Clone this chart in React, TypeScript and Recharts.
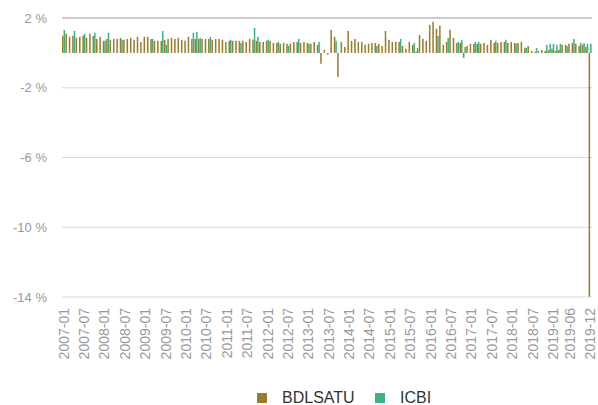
import React from 'react'
import {
  BarChart,
  Bar,
  XAxis,
  YAxis,
  CartesianGrid,
  Legend,
  ReferenceLine,
} from 'recharts'

const FONT = '"Liberation Sans", Arial, sans-serif'
const BROWN = '#9b7b2c'
const GREEN = '#3cb37f'

// monthly categories 2007-01 .. 2019-12
const years = [2007, 2008, 2009, 2010, 2011, 2012, 2013, 2014, 2015, 2016, 2017, 2018, 2019]
const monthNums = ['01', '02', '03', '04', '05', '06', '07', '08', '09', '10', '11', '12']
const months: string[] = years.flatMap(y => monthNums.map(m => `${y}-${m}`))

const tickLabels = [
  '2007-01', '2007-07', '2008-01', '2008-07', '2009-01', '2009-07', '2010-01', '2010-07',
  '2011-01', '2011-07', '2012-01', '2012-07', '2013-01', '2013-07', '2014-01', '2014-07',
  '2015-01', '2015-07', '2016-01', '2016-07', '2017-01', '2017-07', '2018-01', '2018-07',
  '2019-01', '2019-06', '2019-12',
]

const yTicks = [2, -2, -6, -10, -14]

// BDLSATU, one value per month (%)
const bdlsatu = [
  0.98, 1.09, 0.92, 0.98, 0.86, 0.92, 0.98, 0.86, 1.09, 0.98, 0.8, 0.92,
  0.69, 0.8, 0.75, 0.8, 0.8, 0.86, 0.75, 0.8, 0.86, 0.75, 0.92, 0.63,
  0.92, 0.92, 0.8, 0.69, 0.69, 0.69, 0.75, 0.8, 0.86, 0.8, 0.86, 0.75,
  0.69, 0.92, 0.8, 0.8, 0.8, 0.8, 0.8, 0.8, 0.75, 0.8, 0.8, 0.75,
  0.63, 0.69, 0.69, 0.69, 0.69, 0.69, 0.63, 0.8, 0.75, 0.69, 0.63, 0.63,
  0.69, 0.69, 0.57, 0.57, 0.52, 0.57, 0.52, 0.52, 0.63, 0.63, 0.57, 0.63,
  0.57, 0.52, 0.63, 0.46, -0.63, 0.17, -0.11, 1.32, 0.92, -1.38, 0.63, 0.34,
  1.26, 0.69, 0.8, 0.63, 0.63, 0.46, 0.52, 0.57, 0.57, 0.52, 0.4, 1.26,
  0.75, 0.63, 0.63, 0.63, 0.4, 0.23, 0.63, 0.46, 0.06, 1.03, 0.8, 0.69,
  1.61, 1.78, 1.38, 1.55, 0.46, 0.63, 1.32, 0.86, 0.57, 0.57, -0.29, 0.4,
  0.52, 0.52, 0.52, 0.52, 0.57, 0.46, 0.75, 0.57, 0.57, 0.63, 0.63, 0.57,
  0.63, 0.57, 0.57, 0.63, 0.29, 0.4, 0.11, 0.06, 0.11, 0.17, 0.11, 0.17,
  0.23, 0.11, 0.17, 0.46, 0.46, 0.52, 0.57, 0.52, 0.4, 0.46, 0.34, -13.98,
]

// ICBI, only the months where it shows (%)
const icbi: (number | null)[] = [
  1.32, null, null, 1.26, null, null, 1.09, null, null, 1.15, null, null,
  0.69, 1.15, null, null, null, 0.75, null, null, null, null, null, null,
  null, null, 0.8, null, null, 1.26, 0.46, null, null, null, null, null,
  null, null, 1.15, 1.2, 0.86, null, null, 0.92, null, null, null, null,
  null, 0.75, null, null, 0.57, null, null, null, 1.43, 0.92, null, null,
  0.75, null, null, 0.63, null, null, 0.4, null, null, 0.8, null, null,
  0.52, null, null, 0.63, null, null, null, null, 0.69, null, null, null,
  null, null, null, null, null, null, null, null, 0.4, null, null, null,
  null, null, null, 0.8, null, null, null, 0.57, 0.29, null, null, null,
  null, null, 0.97, null, null, 0.86, null, null, 0.63, 0.75, 0.34, null,
  null, 0.63, 0.63, null, null, null, null, 0.69, null, null, 0.75, null,
  null, 0.52, null, null, 0.29, null, null, 0.29, null, null, 0.46, 0.52,
  0.52, 0.46, 0.52, null, 0.4, null, 0.8, null, 0.57, 0.57, 0.52, 0.52,
]

const data = months.map((m, i) => ({ month: m, BDLSATU: bdlsatu[i], ICBI: icbi[i] }))

function MonthTick(props: any) {
  const { x, y, payload } = props
  if (!tickLabels.includes(payload.value)) return <g />
  return (
    <g transform={`translate(${x},${y + 3})`}>
      <text
        transform="rotate(-90)"
        textAnchor="end"
        dy={5}
        fontSize={14}
        fontFamily={FONT}
        fill="#999"
      >
        {payload.value}
      </text>
    </g>
  )
}

function LegendBox() {
  const item = (color: string, label: string, left: number) => (
    <div style={{ position: 'absolute', left, top: 0, display: 'flex', alignItems: 'center' }}>
      <span style={{ width: 10, height: 10, background: color, display: 'inline-block' }} />
      <span style={{ marginLeft: 15, fontSize: 16, color: '#333', fontFamily: FONT }}>{label}</span>
    </div>
  )
  return (
    <div style={{ position: 'relative', width: 598, height: 20 }}>
      {item(BROWN, 'BDLSATU', 257)}
      {item(GREEN, 'ICBI', 375)}
    </div>
  )
}

export default function App() {
  return (
    <div style={{ position: 'absolute', left: 0, top: 0, background: '#fff' }}>
      <BarChart
        width={598}
        height={405}
        data={data}
        margin={{ top: 18, right: 6, left: 0, bottom: 0 }}
        barGap={0}
        barCategoryGap={0}
      >
        <CartesianGrid vertical={false} stroke="#d8d8d8" />
        <ReferenceLine y={2} stroke="#aaa" />
        <XAxis
          dataKey="month"
          interval={0}
          axisLine={false}
          tickLine={false}
          height={78}
          tick={<MonthTick />}
        />
        <YAxis
          width={62}
          domain={[-14, 2]}
          ticks={yTicks}
          axisLine={false}
          tickLine={false}
          tickMargin={9}
          tick={{ fontSize: 13, fontFamily: FONT, fill: '#999' }}
          tickFormatter={v => `${v} %`}
        />
        <Legend verticalAlign="bottom" height={30} content={() => <LegendBox />} wrapperStyle={{ top: 389, left: 0 }} />
        <Bar dataKey="BDLSATU" fill={BROWN} barSize={2} isAnimationActive={false} />
        <Bar dataKey="ICBI" fill={GREEN} barSize={2} isAnimationActive={false} />
      </BarChart>
    </div>
  )
}
